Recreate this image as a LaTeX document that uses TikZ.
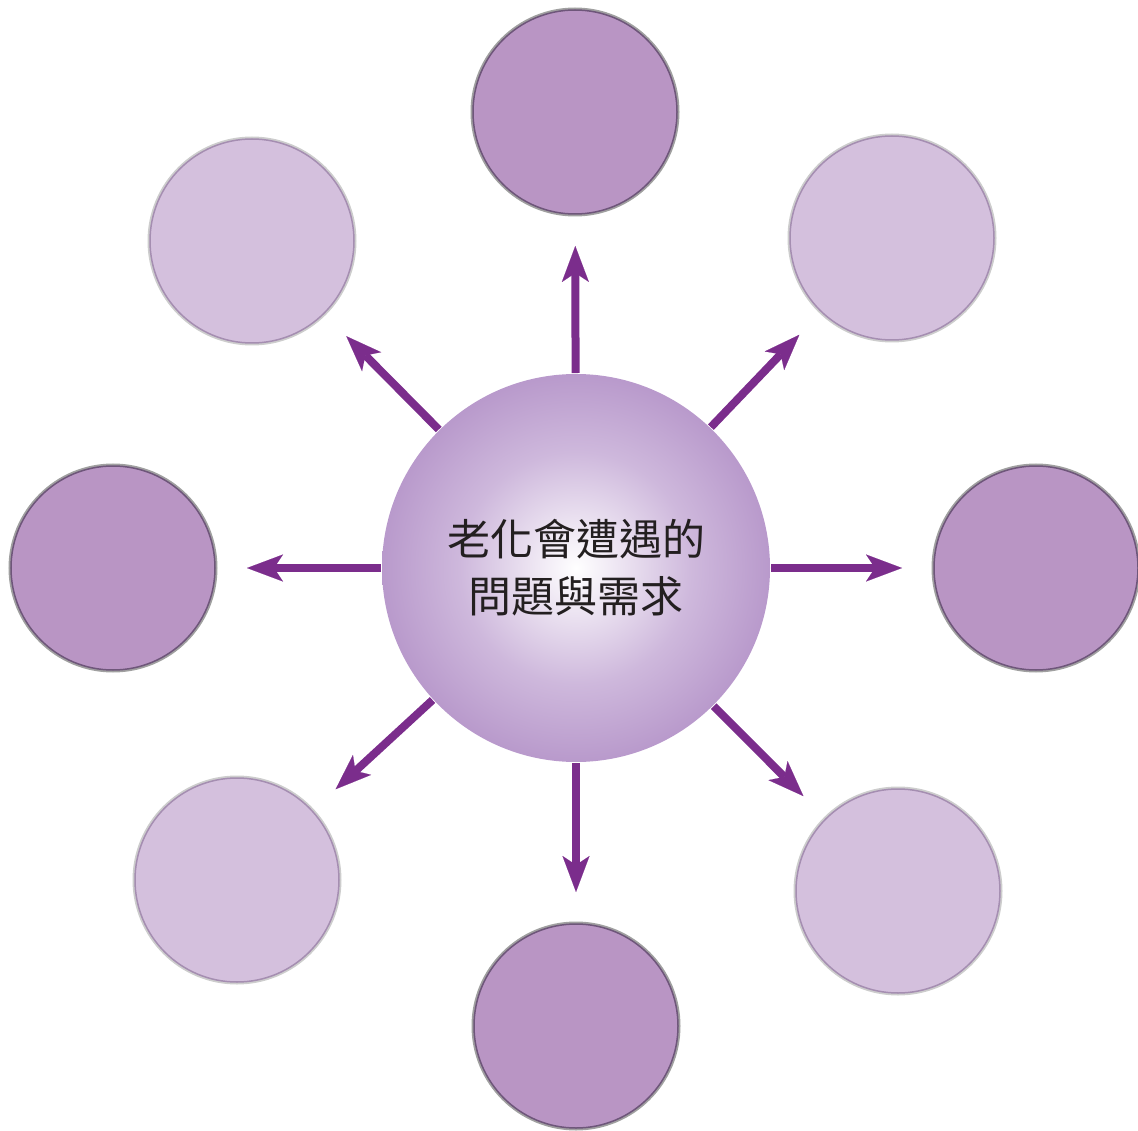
\documentclass[tikz,border=0pt]{standalone}
\usepackage{fontspec}
\newfontfamily\cjk{Noto Sans CJK TC}
\usetikzlibrary{arrows.meta}
\definecolor{spokepurple}{RGB}{123,45,140}
\definecolor{darkfill}{RGB}{185,149,196}
\definecolor{darkedge}{RGB}{110,86,122}
\definecolor{darkring}{RGB}{160,160,160}
\definecolor{lightfill}{RGB}{212,192,221}
\definecolor{lightedge}{RGB}{165,142,177}
\definecolor{lightring}{RGB}{205,205,205}
\definecolor{hubmid}{RGB}{206,184,220}
\definecolor{hubedge}{RGB}{163,123,187}
\definecolor{inktext}{RGB}{35,31,32}
\pgfdeclareradialshading{hubglow}{\pgfpointorigin}{color(0bp)=(white); color(15bp)=(hubmid); color(35bp)=(hubedge); color(50bp)=(hubedge)}

\begin{document}
\begin{tikzpicture}[x=1pt,y=-1pt,
    bubble/.style={circle,inner sep=0pt,outer sep=0pt,minimum size=204pt},
    darkbubble/.style={bubble,fill=darkfill,draw=darkedge,line width=1.5pt,
      preaction={draw=darkring,line width=5pt}},
    lightbubble/.style={bubble,fill=lightfill,draw=lightedge,line width=1.5pt,
      preaction={draw=lightring,line width=5pt}},
    hub/.style={circle,inner sep=0pt,outer sep=0pt,minimum size=388pt,shading=hubglow,
      text=inktext,align=center,font=\cjk\fontsize{43}{57}\selectfont},
    spoke/.style={spokepurple,line width=8pt,shorten <=1pt,shorten >=32pt,
      -{Stealth[length=36pt,width=27pt,inset=9pt,line width=0.1pt]}}]
  \useasboundingbox (0,0) rectangle (1138,1131);
  \node[hub] (hub) at (576,568) {老化會遭遇的\\問題與需求};
  \node[darkbubble] (nT) at (575,112) {};
  \node[lightbubble] (nTR) at (892,238) {};
  \node[darkbubble] (nR) at (1036,568) {};
  \node[lightbubble] (nBR) at (898,891) {};
  \node[darkbubble] (nB) at (576,1026) {};
  \node[lightbubble] (nBL) at (237,880) {};
  \node[darkbubble] (nL) at (113,568) {};
  \node[lightbubble] (nTL) at (252,241) {};
  \foreach \n in {nT,nTR,nR,nBR,nB,nBL,nL,nTL}
    \draw[spoke] (hub) -- (\n);
\end{tikzpicture}
\end{document}
